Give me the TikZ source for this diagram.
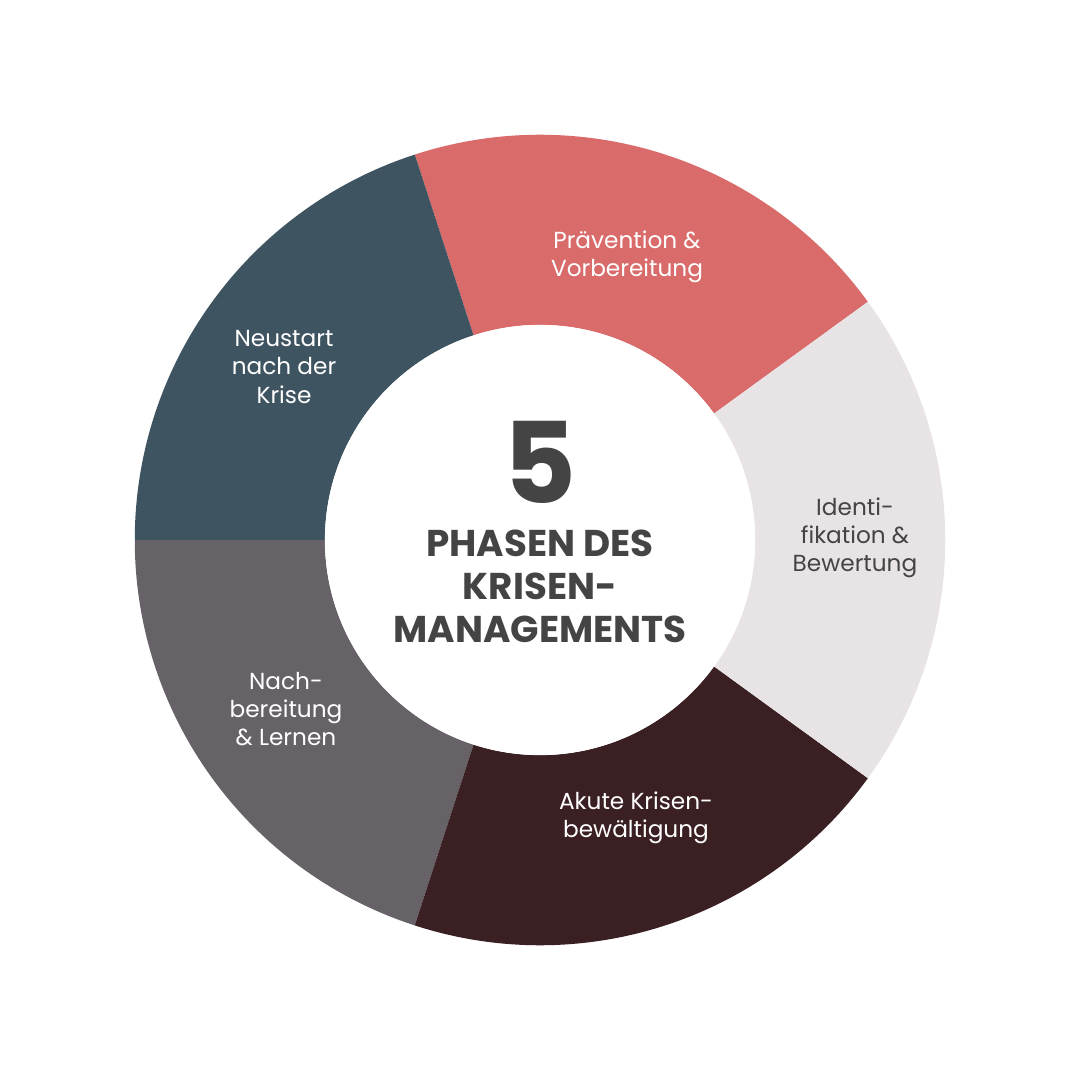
\documentclass[tikz,border=0pt]{standalone}
\usepackage{fontspec}
\usetikzlibrary{calc}
\setmainfont{Poppins}
\definecolor{cred}{HTML}{D96B6B}
\definecolor{cslate}{HTML}{3F5461}
\definecolor{cgrey}{HTML}{676168}
\definecolor{cmaroon}{HTML}{3A1F23}
\definecolor{clight}{HTML}{E8E3E4}
\definecolor{ctext}{HTML}{444444}
\begin{document}
\begin{tikzpicture}[x=0.01cm,y=-0.01cm,
  lab/.style={align=center,font=\fontsize{6.6}{8}\selectfont},
  seg/.style={draw=none}]
\useasboundingbox (0,0) rectangle (1080,1080);
\fill[white] (0,0) rectangle (1080,1080);
\coordinate (c) at (540,540);
\foreach \a/\col in {36/cred,108/cslate,180/cgrey,252/cmaroon,324/clight}{
  \fill[\col] ($(c)+(\a:4.05cm)$) arc[start angle=\a,delta angle=72,radius=4.05cm]
    -- ($(c)+(\a+72:2.15cm)$) arc[start angle=\a+72,delta angle=-72,radius=2.15cm] -- cycle;
}
\fill[white] (c) circle[radius=2.15cm];
\node[lab,text=white] (p1) at (627,257) {Prävention \&\\Vorbereitung};
\node[lab,text=white] (p5) at (284,367) {Neustart\\nach der\\Krise};
\node[lab,text=white] (p4) at (286,709) {Nach-\\bereitung\\\& Lernen};
\node[lab,text=white] (p3) at (636,818) {Akute Krisen-\\bewältigung};
\node[lab,text=ctext] (p2) at (855,538) {Identi-\\fikation \&\\Bewertung};
\node[text=ctext,font=\fontsize{32}{32}\selectfont\bfseries] (n5) at (540,462) {5};
\node[text=ctext,align=center,font=\fontsize{10.6}{12.2}\selectfont\bfseries] (t) at (540,586) {PHASEN DES\\KRISEN-\\MANAGEMENTS};
\end{tikzpicture}
\end{document}
